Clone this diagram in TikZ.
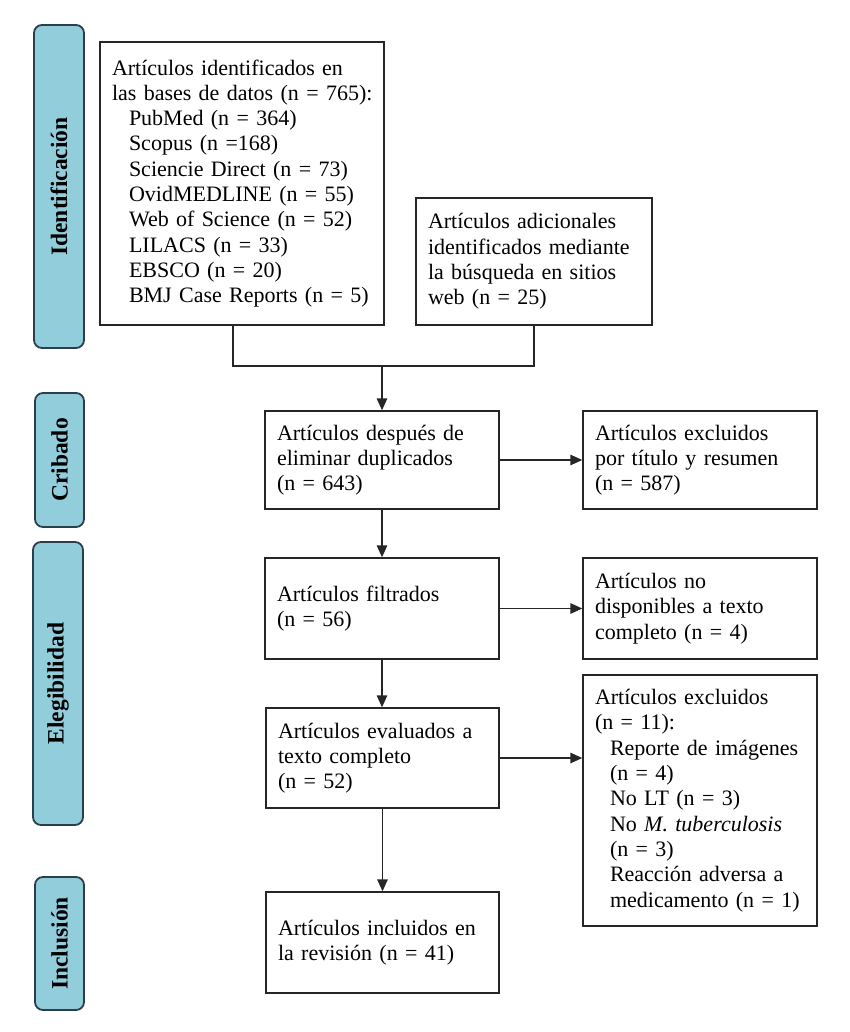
\documentclass[tikz,border=0pt]{standalone}
\usepackage{fontspec}
\setmainfont{Liberation Serif}
\usetikzlibrary{arrows.meta}
\definecolor{lblfill}{HTML}{92CDDC}
\definecolor{lbldraw}{HTML}{2B3E4C}
\definecolor{boxdraw}{HTML}{262626}
\begin{document}
\begin{tikzpicture}[x=1pt,y=-1pt,
  every node/.style={font=\fontsize{22}{25.3}\selectfont},
  flowbox/.style={draw=boxdraw, line width=1.4pt, align=left, inner xsep=12pt, inner ysep=0pt, anchor=center},
  phase/.style={draw=lbldraw, fill=lblfill, line width=1.8pt, rounded corners=8pt, rotate=90,
                font=\fontsize{23.5}{25}\selectfont\bfseries, inner sep=0pt},
  arr/.style={draw=boxdraw, line width=1.4pt, -{Triangle[length=12pt,width=10.5pt]}},
  ln/.style={draw=boxdraw, line width=1.4pt}]
\useasboundingbox (0,0) rectangle (849,1032);

% phase labels
\node[phase, minimum width=323pt, minimum height=50pt] (p1) at (59,186.5) {Identificación};
\node[phase, minimum width=134pt, minimum height=49pt] (p2) at (59.5,460) {Cribado};
\node[phase, minimum width=283pt, minimum height=50pt] (p3) at (58,683.5) {Elegibilidad};
\node[phase, minimum width=133pt, minimum height=49pt] (p4) at (59.5,943.5) {Inclusión};

% boxes
\node[flowbox, text width=260pt, minimum height=283pt] (id1) at (242,183.5)
  {Artículos~identificados~en\\
   las~bases~de~datos~(n~=~765):\\
   \hspace*{17pt}PubMed~(n~=~364)\\
   \hspace*{17pt}Scopus~(n~=168)\\
   \hspace*{17pt}Sciencie~Direct~(n~=~73)\\
   \hspace*{17pt}OvidMEDLINE~(n~=~55)\\
   \hspace*{17pt}Web~of~Science~(n~=~52)\\
   \hspace*{17pt}LILACS~(n~=~33)\\
   \hspace*{17pt}EBSCO~(n~=~20)\\
   \hspace*{17pt}BMJ~Case~Reports~(n~=~5)};

\node[flowbox, text width=212pt, minimum height=127pt] (add) at (534,261.5)
  {Artículos~adicionales\\
   identificados~mediante\\
   la~búsqueda~en~sitios\\
   web~(n~=~25)};

\node[flowbox, text width=210pt, minimum height=98pt] (dup) at (382,460)
  {Artículos~después~de\\
   eliminar~duplicados\\
   (n~=~643)};

\node[flowbox, text width=210pt, minimum height=98pt] (rex1) at (700,460)
  {Artículos~excluidos\\
   por~título~y~resumen\\
   (n~=~587)};

\node[flowbox, text width=210pt, minimum height=101pt] (filt) at (382,608.5)
  {Artículos~filtrados\\
   (n~=~56)};

\node[flowbox, text width=210pt, minimum height=101pt] (rex2) at (700,608.5)
  {Artículos~no\\
   disponibles~a~texto\\
   completo~(n~=~4)};

\node[flowbox, text width=209pt, minimum height=100pt] (eval) at (382.5,758)
  {Artículos~evaluados~a\\
   texto~completo\\
   (n~=~52)};

\node[flowbox, text width=210pt, minimum height=251pt] (rex3) at (700,800.5)
  {Artículos~excluidos\\
   (n~=~11):\\
   \hspace*{15pt}Reporte~de~imágenes\\
   \hspace*{15pt}(n~=~4)\\
   \hspace*{15pt}No~LT~(n~=~3)\\
   \hspace*{15pt}No~\textit{M.~tuberculosis}\\
   \hspace*{15pt}(n~=~3)\\
   \hspace*{15pt}Reacción~adversa~a\\
   \hspace*{15pt}medicamento~(n~=~1)};

\node[flowbox, text width=209pt, minimum height=101pt] (incl) at (382.5,942.5)
  {Artículos~incluidos~en\\
   la~revisión~(n~=~41)};

% connectors
\coordinate (jl) at (233,366);
\coordinate (jr) at (add.south |- jl);
\coordinate (jm) at (dup.north |- jl);
\draw[ln] (id1.south -| jl) -- (jl) -- (jr) -- (add.south);
\draw[arr] (jm) -- (dup.north);
\draw[arr] (dup) -- (rex1);
\draw[arr] (dup) -- (filt);
\draw[arr] (filt) -- (rex2);
\draw[arr] (filt.south) -- (filt.south |- eval.north);
\draw[arr] (eval.east) -- (eval.east -| rex3.west);
\draw[arr] (eval) -- (incl);
\end{tikzpicture}
\end{document}
